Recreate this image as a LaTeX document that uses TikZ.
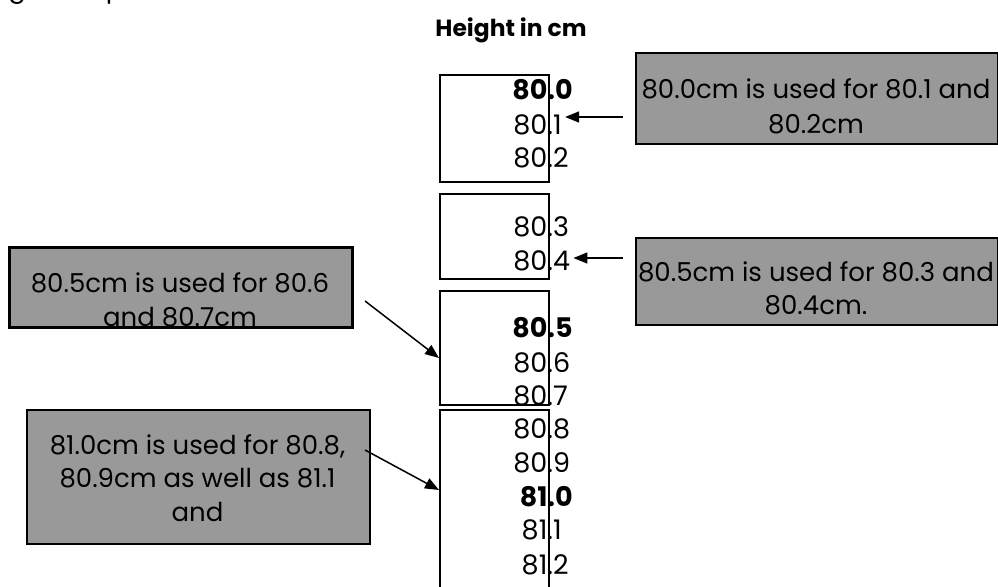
\documentclass[tikz,border=0pt]{standalone}
\usepackage{fontspec}
\setmainfont{Poppins}
\usetikzlibrary{arrows.meta}
\definecolor{boxgray}{RGB}{153,153,153}
\begin{document}
\begin{tikzpicture}[x=0.5pt,y=-0.5pt,
  vbox/.style={draw, line width=1pt, inner sep=0, anchor=north west},
  gbox/.style={draw, line width=1pt, fill=boxgray, inner sep=0, anchor=north west},
  num/.style={anchor=base west, inner sep=0, font=\fontsize{13.5}{15}\selectfont},
  bnum/.style={num, font=\fontsize{13.5}{15}\selectfont\bfseries},
  lbl/.style={anchor=base, inner sep=0, font=\fontsize{13}{15}\selectfont},
  arr/.style={line width=0.75pt, -{Triangle[length=7pt,width=5.5pt]}}]
\useasboundingbox (0,0) rectangle (998,587);

% cut-off line at the top
\node[lbl, anchor=base west] (frag) at (8,-2) {g example:};

% title
\node[lbl, font=\fontsize{11.7}{14}\selectfont\bfseries] (title) at (511,37) {Height in cm};

% white boxes
\node[vbox, minimum width=54.5pt, minimum height=53.5pt] (b1) at (439,74) {};
\node[vbox, minimum width=54.5pt, minimum height=42.5pt] (b2) at (439,193) {};
\node[vbox, minimum width=54.5pt, minimum height=57pt] (b3) at (439,290) {};
\node[vbox, minimum width=54.5pt, minimum height=120pt] (b4) at (439,409) {};

% numbers
\node[bnum] (n800) at (547,100) {\llap{80}.0};
\node[num] (n801) at (547,135) {\llap{80}.1};
\node[num] (n802) at (547,168) {\llap{80}.2};
\node[num] (n803) at (547,237) {\llap{80}.3};
\node[num] (n804) at (547,271) {\llap{80}.4};
\node[bnum] (n805) at (547,338) {\llap{80}.5};
\node[num] (n806) at (547,373) {\llap{80}.6};
\node[num] (n807) at (547,406) {\llap{80}.7};
\node[num] (n808) at (547,439) {\llap{80}.8};
\node[num] (n809) at (547,473) {\llap{80}.9};
\node[bnum] (n810) at (547,507) {\llap{81}.0};
\node[num] (n811) at (547,540) {\llap{81}.1};
\node[num] (n812) at (547,575) {\llap{81}.2};

% grey boxes
\node[gbox, minimum width=181pt, minimum height=45.5pt] (gA) at (635,52) {};
\node[lbl] (tA1) at (816,99) {80.0cm is used for 80.1 and};
\node[lbl] (tA2) at (816,134) {80.2cm};

\node[gbox, minimum width=181pt, minimum height=43.5pt] (gB) at (635,237) {};
\node[lbl] (tB1) at (816,282) {80.5cm is used for 80.3 and};
\node[lbl] (tB2) at (816,315) {80.4cm.};

\node[gbox, minimum width=171pt, minimum height=39.5pt] (gC) at (9,247) {};
\begin{scope}
\clip (gC.north west) rectangle (gC.south east);
\node[lbl] (tC1) at (180,293) {80.5cm is used for 80.6};
\node[lbl] (tC2) at (180,327) {and 80.7cm};
\end{scope}
\draw[line width=1pt] (gC.north west) rectangle (gC.south east);

\node[gbox, minimum width=171.5pt, minimum height=67pt] (gD) at (26,409) {};
\node[lbl] (tD1) at (197.5,455) {81.0cm is used for 80.8,};
\node[lbl] (tD2) at (197.5,488) {80.9cm as well as 81.1};
\node[lbl] (tD3) at (197.5,522) {and};

% arrows
\coordinate (s1) at (623,117);
\coordinate (s2) at (623,258);
\coordinate (s3) at (365,301);
\coordinate (s4) at (365,450);
\draw[arr] (s1) -- ([xshift=1.5pt]n801.east |- s1);
\draw[arr] (s2) -- ([xshift=1.5pt]n804.east |- s2);
\draw[arr] (s3) -- ([yshift=-5pt]b3.west);
\draw[arr] (s4) -- ([yshift=-40.5pt]b4.north west);
\end{tikzpicture}
\end{document}
